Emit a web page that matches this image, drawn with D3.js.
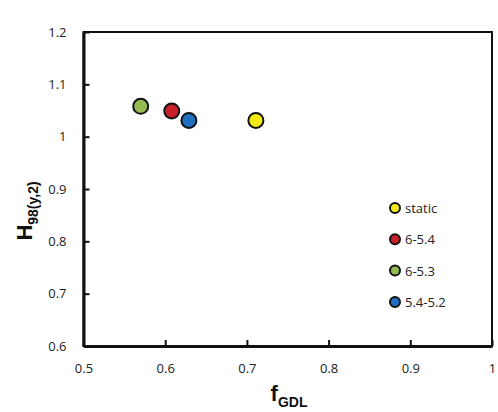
<!DOCTYPE html>
<html>
<head>
<meta charset="utf-8">
<script src="https://cdn.jsdelivr.net/npm/d3@7"></script>
<style>
  body { margin: 0; background: #fff; }
  svg { display: block; }
  .tick text { font-family: "Open Sans", "Liberation Sans", sans-serif; font-size: 13px; fill: #222; }
</style>
</head>
<body>
<div id="chart"></div>
<script>
// series
var names = ["static", "6-5.4", "6-5.3", "5.4-5.2"];
var colors = ["#f5ea14", "#c8202a", "#93bb52", "#1f6fc0"];
var fGDL = [0.711, 0.608, 0.570, 0.629];
var H98 = [1.031, 1.049, 1.058, 1.031];

var xTicks = [0.5, 0.6, 0.7, 0.8, 0.9, 1];
var yTicks = [0.6, 0.7, 0.8, 0.9, 1, 1.1, 1.2];

(function() {
    var W = 498, H = 412;
    var pLeft = 83.5, pRight = 492, pTop = 32, pBottom = 346;

    var svg = d3.select("#chart").append("svg").attr("width", W).attr("height", H);

    var x = d3.scaleLinear().domain([0.5, 1]).range([pLeft, pRight]);
    var y = d3.scaleLinear().domain([0.6, 1.2]).range([pBottom, pTop]);

    var fmt = function(d) { return d === 1 ? "1" : d3.format(".1f")(d); };

    //frame (top/right)
    svg.append("rect")
        .attr("x", pLeft).attr("y", pTop)
        .attr("width", pRight - pLeft).attr("height", pBottom - pTop)
        .attr("fill", "none").attr("stroke", "#111").attr("stroke-width", 2);

    //axes, ticks pointing inward
    var xAxis = d3.axisBottom(x).tickValues(xTicks).tickSizeInner(-6).tickSizeOuter(0)
        .tickPadding(18).tickFormat(fmt);
    var gx = svg.append("g").attr("transform", "translate(0," + pBottom + ")").call(xAxis);
    gx.select(".domain").attr("stroke", "#111").attr("stroke-width", 3);
    gx.selectAll(".tick line").attr("stroke", "#111").attr("stroke-width", 2);

    var yAxis = d3.axisLeft(y).tickValues(yTicks).tickSizeInner(-6).tickSizeOuter(0)
        .tickPadding(17).tickFormat(fmt);
    var gy = svg.append("g").attr("transform", "translate(" + pLeft + ",0)").call(yAxis);
    gy.select(".domain").attr("stroke", "#111").attr("stroke-width", 3);
    gy.selectAll(".tick line").attr("stroke", "#111").attr("stroke-width", 2);

    //points
    svg.selectAll("circle.pt")
        .data(names).enter()
        .append("circle")
        .attr("class", "pt")
        .attr("cx", function(d, i) { return x(fGDL[i]); })
        .attr("cy", function(d, i) { return y(H98[i]); })
        .attr("r", 7.5)
        .attr("fill", function(d, i) { return colors[i]; })
        .attr("stroke", "#111")
        .attr("stroke-width", 2);

    //legend
    var lg = svg.append("g").attr("transform", "translate(395,208)");
    var item = lg.selectAll("g").data(names).enter().append("g")
        .attr("transform", function(d, i) { return "translate(0," + (i * 31.3) + ")"; });
    item.append("circle").attr("r", 5)
        .attr("fill", function(d, i) { return colors[i]; })
        .attr("stroke", "#111").attr("stroke-width", 2);
    item.append("text").attr("x", 10).attr("y", 5)
        .style("font-family", "'Open Sans', 'Liberation Sans', sans-serif")
        .style("font-size", "13px").style("fill", "#222")
        .text(function(d) { return d; });

    //axis titles
    var xt = svg.append("text")
        .attr("x", 289).attr("y", 401)
        .attr("text-anchor", "middle")
        .style("font-family", "'Liberation Sans', Arial, sans-serif")
        .style("font-weight", "bold").style("fill", "#111");
    xt.append("tspan").style("font-size", "22px").text("f");
    xt.append("tspan").attr("dy", 6).style("font-size", "14px").text("GDL");

    var yt = svg.append("text")
        .attr("transform", "translate(32,211) rotate(-90)")
        .attr("text-anchor", "middle")
        .style("font-family", "'Liberation Sans', Arial, sans-serif")
        .style("font-weight", "bold").style("fill", "#111");
    yt.append("tspan").style("font-size", "22px").text("H");
    yt.append("tspan").attr("dy", 6).style("font-size", "14px").text("98(y,2)");
})();
</script>
</body>
</html>
